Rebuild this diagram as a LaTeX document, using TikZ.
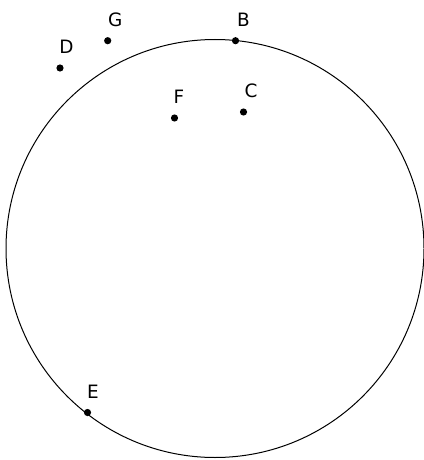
\documentclass[tikz,border=0pt]{standalone}
\usepackage{fontspec}
\setmainfont{DejaVu Sans}
\usetikzlibrary{positioning}

\tikzset{
  dot/.style={circle, fill=black, inner sep=0pt, minimum size=5.4pt},
  lbl/.style={font=\fontsize{13.8}{16}\selectfont, inner sep=0pt}
}

\begin{document}
\begin{tikzpicture}[x=0.75pt, y=-0.75pt]
    \useasboundingbox (0,0) rectangle (424,460);
    \draw[line width=0.75pt] (215,248.5) circle[radius=209];

    % points
    \node[dot] (B) at (235.5,40.7) {};
    \node[dot] (C) at (243.5,112) {};
    \node[dot] (D) at (60,68) {};
    \node[dot] (E) at (87.5,412.5) {};
    \node[dot] (F) at (174.5,118) {};
    \node[dot] (G) at (107.7,40.7) {};

    % labels
    \node[lbl] at ([shift={(8,-21)}]B) {B};
    \node[lbl] at ([shift={(7.5,-21)}]C) {C};
    \node[lbl] at ([shift={(6.5,-21)}]D) {D};
    \node[lbl] at ([shift={(5.5,-21)}]E) {E};
    \node[lbl] at ([shift={(4.5,-21)}]F) {F};
    \node[lbl] at ([shift={(7.5,-21)}]G) {G};
\end{tikzpicture}
\end{document}
